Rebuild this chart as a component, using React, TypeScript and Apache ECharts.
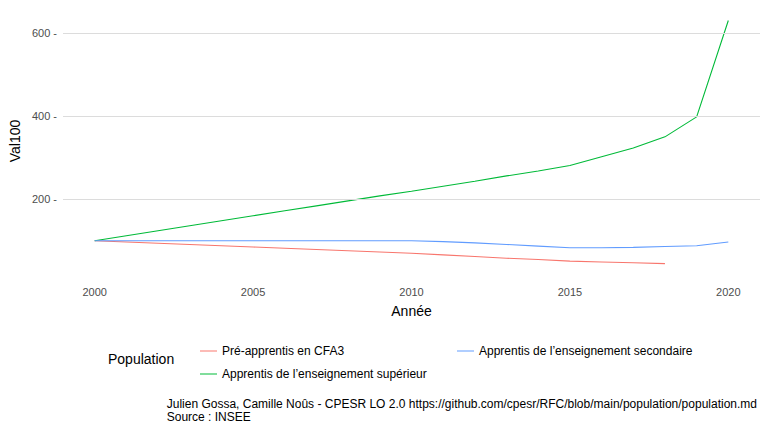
import { useEffect, useRef } from 'react';
import * as echarts from 'echarts';

const years = [2000, 2001, 2002, 2003, 2004, 2005, 2006, 2007, 2008, 2009, 2010,
    2011, 2012, 2013, 2014, 2015, 2016, 2017, 2018, 2019, 2020];
const preApprentis = [100, 97, 94, 91, 88, 85, 82, 79, 76, 73, 70, 66, 62, 58, 55, 51, 49, 47, 45];
const apprentisSup = [100, 112, 124, 136, 148, 160, 172, 184, 196, 208, 219, 231, 243, 256, 268, 281, 302, 323, 350, 398, 630];
const apprentisSec = [100, 100, 100, 100, 100, 100, 100, 100, 100, 100, 100, 98, 95, 91, 87, 83, 83, 84, 86, 88, 97];
const yTicks = [200, 400, 600];

const names = [
    'Pré-apprentis en CFA3',
    'Apprentis de l’enseignement supérieur',
    'Apprentis de l’enseignement secondaire',
];
const colors = ['#F8766D', '#00BA38', '#619CFF'];

const font = 'Liberation Sans, Arial, sans-serif';

export default function App() {
    const chartRef = useRef<HTMLDivElement>(null);

    useEffect(() => {
        document.body.style.margin = '0';
        if (!chartRef.current) return;
        const chart = echarts.init(chartRef.current, null, { renderer: 'svg' });
        const seriesData = [preApprentis, apprentisSup, apprentisSec];

        const legendBase = {
            orient: 'vertical' as const,
            top: 340,
            itemWidth: 17,
            itemHeight: 1,
            itemGap: 11,
            icon: 'rect',
            textStyle: { color: '#000', fontSize: 12, fontFamily: font },
        };

        chart.setOption({
            animation: false,
            textStyle: { fontFamily: font },
            grid: { left: 55, right: 8, top: 8, bottom: 432 - 274 },
            xAxis: {
                type: 'value',
                min: 1999,
                max: 2021,
                interval: 1,
                name: 'Année',
                nameLocation: 'middle',
                nameGap: 30,
                nameTextStyle: { color: '#000', fontSize: 14 },
                axisLine: { show: false },
                axisTick: { show: false },
                splitLine: { show: false },
                axisLabel: {
                    color: '#4d4d4d',
                    fontSize: 11,
                    margin: 12,
                    formatter: (v: number) => (v % 5 === 0 ? String(v) : ''),
                },
            },
            yAxis: {
                type: 'value',
                min: 20,
                max: 660,
                name: 'Val100',
                nameLocation: 'middle',
                nameGap: 41,
                nameTextStyle: { color: '#000', fontSize: 14 },
                axisLine: { show: false },
                axisTick: { show: false },
                axisLabel: { show: false },
                splitLine: { show: false },
            },
            legend: [
                { ...legendBase, left: 195, data: [names[0], names[1]] },
                { ...legendBase, left: 452, data: [names[2]] },
            ],
            graphic: [
                {
                    type: 'text', left: 108, top: 352,
                    style: { text: 'Population', fontSize: 14, fill: '#000', fontFamily: font },
                },
                {
                    type: 'text', right: 11, top: 397,
                    style: {
                        text: 'Julien Gossa, Camille Noûs - CPESR LO 2.0 https://github.com/cpesr/RFC/blob/main/population/population.md\nSource : INSEE',
                        align: 'right', fontSize: 12, lineHeight: 13, fill: '#000', fontFamily: font,
                    },
                },
            ],
            series: [
                ...seriesData.map((vals, i) => ({
                    name: names[i],
                    type: 'line',
                    data: vals.map((v, j) => [years[j], v]),
                    symbol: 'none',
                    lineStyle: { color: colors[i], width: 1.1 },
                    itemStyle: { color: colors[i] },
                    z: 3,
                })),
                {
                    type: 'line',
                    data: [],
                    silent: true,
                    z: 1,
                    markLine: {
                        symbol: 'none',
                        silent: true,
                        lineStyle: { color: '#dcdcdc', width: 1, type: 'solid' },
                        label: {
                            position: 'start',
                            color: '#4d4d4d',
                            fontSize: 11,
                            distance: 6,
                            formatter: (p: any) => `${p.value} -`,
                        },
                        data: yTicks.map(v => ({ yAxis: v })),
                    },
                },
            ],
        });

        return () => chart.dispose();
    }, []);

    return <div ref={chartRef} style={{ width: 768, height: 432 }} />;
}
